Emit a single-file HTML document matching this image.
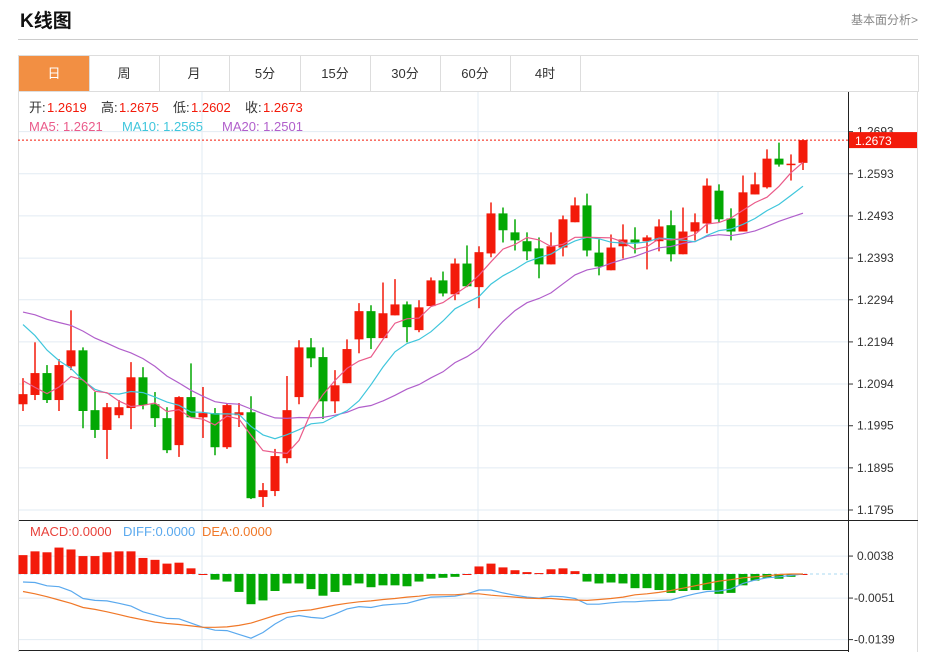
<!DOCTYPE html>
<html><head><meta charset="utf-8"><style>
body{margin:0;background:#fff;font-family:"Liberation Sans","Noto Sans CJK SC",sans-serif;}
#wrap{position:relative;width:936px;height:653px;overflow:hidden;}
.title{position:absolute;left:20px;top:6px;font-size:19px;font-weight:bold;color:#111;}
.more{position:absolute;left:851px;top:11px;font-size:12px;color:#888;}
.hr{position:absolute;left:18px;top:39px;width:900px;height:1px;background:#ccc;}
.tabs{position:absolute;left:18px;top:55px;width:899px;height:35px;border:1px solid #ddd;}
.tab{position:absolute;top:0;height:35px;width:70px;border-right:1px solid #ddd;text-align:center;line-height:35px;font-size:13px;color:#333;}
.tab.on{background:#f28f43;color:#fff;}
svg{position:absolute;left:0;top:0;}
</style></head><body><div id="wrap">
<div class="title">K线图</div>
<div class="more">基本面分析&gt;</div>
<div class="hr"></div>
<div class="tabs">
<div class="tab on" style="left:0">日</div>
<div class="tab" style="left:70px">周</div>
<div class="tab" style="left:140px">月</div>
<div class="tab" style="left:211px">5分</div>
<div class="tab" style="left:281px">15分</div>
<div class="tab" style="left:351px">30分</div>
<div class="tab" style="left:421px">60分</div>
<div class="tab" style="left:491px">4时</div>
</div>
<svg id="chart" width="936" height="653"></svg>
</div>
<script>
const opens=[1.2046,1.2068,1.2120,1.2056,1.2136,1.2174,1.2032,1.1985,1.2020,1.2037,1.2110,1.2046,1.2013,1.1949,1.2063,1.2015,1.2025,1.1944,1.2020,1.2027,1.1826,1.1840,1.1918,1.2063,1.2181,1.2158,1.2053,1.2096,1.2200,1.2267,1.2203,1.2257,1.2283,1.2222,1.2279,1.2340,1.2307,1.2380,1.2324,1.2404,1.2499,1.2454,1.2433,1.2416,1.2378,1.2418,1.2478,1.2518,1.2406,1.2364,1.2421,1.2437,1.2433,1.2433,1.2471,1.2402,1.2456,1.2475,1.2553,1.2487,1.2456,1.2544,1.2561,1.2629,1.2615,1.2619];
const closes=[1.2070,1.2120,1.2056,1.2139,1.2174,1.2030,1.1985,1.2039,1.2039,1.2110,1.2044,1.2013,1.1937,1.2063,1.2015,1.2025,1.1944,1.2044,1.2027,1.1823,1.1842,1.1923,1.2032,1.2181,1.2155,1.2053,1.2091,1.2177,1.2267,1.2203,1.2262,1.2283,1.2229,1.2276,1.2340,1.2309,1.2380,1.2326,1.2407,1.2499,1.2459,1.2435,1.2409,1.2378,1.2421,1.2485,1.2518,1.2411,1.2373,1.2418,1.2437,1.2430,1.2442,1.2468,1.2402,1.2456,1.2478,1.2565,1.2485,1.2456,1.2549,1.2568,1.2629,1.2615,1.2617,1.2673];
const highs=[1.2108,1.2193,1.2139,1.2153,1.2269,1.2181,1.2075,1.2049,1.2056,1.2146,1.2134,1.2075,1.2039,1.2065,1.2143,1.2087,1.2037,1.2049,1.2049,1.2065,1.1859,1.1940,1.2113,1.2198,1.2203,1.2181,1.2127,1.2200,1.2286,1.2281,1.2335,1.2343,1.2290,1.2293,1.2347,1.2361,1.2392,1.2423,1.2421,1.2525,1.2513,1.2485,1.2454,1.2442,1.2454,1.2494,1.2537,1.2546,1.2437,1.2449,1.2473,1.2466,1.2447,1.2485,1.2506,1.2513,1.2499,1.2582,1.2568,1.2511,1.2589,1.2596,1.2651,1.2667,1.2639,1.2675];
const lows=[1.2030,1.2056,1.2049,1.2030,1.2127,1.1989,1.1966,1.1916,1.2013,1.1987,1.2034,1.1992,1.1930,1.1921,1.2015,1.1966,1.1925,1.1940,1.1992,1.1821,1.1802,1.1828,1.1906,1.2046,1.2134,1.2011,1.2025,1.2096,1.2167,1.2177,1.2203,1.2257,1.2193,1.2217,1.2279,1.2302,1.2293,1.2324,1.2274,1.2395,1.2430,1.2411,1.2388,1.2345,1.2378,1.2397,1.2478,1.2397,1.2352,1.2364,1.2392,1.2404,1.2366,1.2409,1.2385,1.2402,1.2435,1.2452,1.2478,1.2435,1.2456,1.2544,1.2558,1.2610,1.2577,1.2602];
const priorCloses=[1.2250,1.2270,1.2290,1.2310,1.2300,1.2320,1.2280,1.2300,1.2310,1.2315,1.2380,1.2400,1.2390,1.2360,1.2310,1.2200,1.2130,1.2060,1.2050];
const diffs=[-0.0017,-0.0018,-0.0025,-0.0027,-0.0036,-0.0052,-0.0056,-0.0057,-0.0062,-0.0068,-0.0080,-0.0087,-0.0094,-0.0095,-0.0104,-0.0113,-0.0119,-0.0120,-0.0128,-0.0136,-0.0124,-0.0106,-0.0092,-0.0088,-0.0092,-0.0094,-0.0085,-0.0074,-0.0069,-0.0071,-0.0066,-0.0064,-0.0062,-0.0055,-0.0049,-0.0048,-0.0047,-0.0042,-0.0034,-0.0034,-0.0040,-0.0045,-0.0049,-0.0051,-0.0047,-0.0048,-0.0052,-0.0064,-0.0064,-0.0061,-0.0059,-0.0059,-0.0057,-0.0056,-0.0055,-0.0048,-0.0042,-0.0037,-0.0036,-0.0032,-0.0020,-0.0013,-0.0008,-0.0006,-0.0003,0.0000];
const deas=[-0.0037,-0.0042,-0.0048,-0.0055,-0.0062,-0.0071,-0.0075,-0.0080,-0.0086,-0.0092,-0.0097,-0.0102,-0.0105,-0.0107,-0.0110,-0.0113,-0.0113,-0.0112,-0.0109,-0.0104,-0.0096,-0.0088,-0.0082,-0.0078,-0.0076,-0.0071,-0.0066,-0.0062,-0.0059,-0.0057,-0.0054,-0.0052,-0.0049,-0.0047,-0.0044,-0.0044,-0.0044,-0.0042,-0.0042,-0.0045,-0.0047,-0.0049,-0.0051,-0.0052,-0.0052,-0.0054,-0.0055,-0.0056,-0.0054,-0.0052,-0.0049,-0.0044,-0.0042,-0.0039,-0.0035,-0.0030,-0.0025,-0.0020,-0.0015,-0.0012,-0.0008,-0.0006,-0.0004,-0.0001,0.0000,0.0000];
const priceTicks=[1.2693,1.2593,1.2493,1.2393,1.2294,1.2194,1.2094,1.1995,1.1895,1.1795];
const macdTicks=[0.0038,-0.0051,-0.0139];

const NS='http://www.w3.org/2000/svg';
const svg=document.getElementById('chart');
function mk(tag,attrs,parent){const e=document.createElementNS(NS,tag);for(const k in attrs)e.setAttribute(k,attrs[k]);(parent||svg).appendChild(e);return e;}
const yP=v=>510-(v-1.1795)*4213;
const yM=v=>574-v*4719;
const xC=i=>23+i*12.0;
const RED='#f31a0a',GREEN='#03a803';

for(const t of priceTicks){const l=mk('line',{x1:18,x2:848,y1:yP(t),y2:yP(t),stroke:'#e2ebf3'});
}
for(const t of macdTicks){const l=mk('line',{x1:18,x2:848,y1:yM(t),y2:yM(t),stroke:'#e2ebf3'});
}
for(const gx of [202,478,718]){const l=mk('line',{x1:gx,x2:gx,y1:92,y2:650,stroke:'#e2ebf3'});
}
mk('line',{x1:848.5,x2:848.5,y1:92,y2:652,stroke:'#222'});
mk('line',{x1:917.5,x2:917.5,y1:92,y2:652,stroke:'#ddd'});
mk('line',{x1:18,x2:918,y1:520.5,y2:520.5,stroke:'#222'});
mk('line',{x1:18,x2:848,y1:650.5,y2:650.5,stroke:'#222'});
mk('line',{x1:18.5,x2:18.5,y1:92,y2:652,stroke:'#ddd'});

for(const t of priceTicks){
 const y=yP(t);mk('line',{x1:849,x2:853,y1:y,y2:y,stroke:'#333'});
 const tx=mk('text',{x:857,y:y+4,'font-size':12,fill:'#333'});tx.textContent=t.toFixed(4);
 }
for(const t of macdTicks){
 const y=yM(t);mk('line',{x1:849,x2:853,y1:y,y2:y,stroke:'#333'});
 const tx=mk('text',{x:t<0?854:857,y:y+4,'font-size':12,fill:'#333'});tx.textContent=t.toFixed(4);
 }

const all=priorCloses.concat(closes);
function ma(n){return closes.map((c,i)=>{const j=i+priorCloses.length;let s=0;for(let k=j-n+1;k<=j;k++)s+=all[k];return s/n;});}
function line(vals,fy,color,name){const p=mk('polyline',{points:vals.map((v,i)=>xC(i)+','+fy(v).toFixed(1)).join(' '),fill:'none',stroke:color,'stroke-width':1.2});
 }

closes.forEach((c,i)=>{
 const o=opens[i],up=c>=o,col=up?RED:GREEN,x=xC(i);
 const g=mk('g',{});
 mk('line',{x1:x,x2:x,y1:yP(highs[i]),y2:yP(lows[i]),stroke:col,'stroke-width':1.5},g);
 const top=yP(Math.max(o,c)),h=Math.max(1.5,yP(Math.min(o,c))-top);
 mk('rect',{x:x-4.5,y:top,width:9,height:h,fill:col},g);
});
line(ma(20),yP,'#b15fcb','ma20-line');
line(ma(10),yP,'#3fc6dc','ma10-line');
line(ma(5),yP,'#ea5b8a','ma5-line');

const lc=closes[closes.length-1];
mk('line',{x1:18,x2:848,y1:yP(lc),y2:yP(lc),stroke:RED,'stroke-dasharray':'2,2'});
const lb=mk('rect',{x:849,y:yP(lc)-8,width:68,height:16,fill:RED});

const lt=mk('text',{x:855,y:yP(lc)+5,'font-size':12,fill:'#fff'});lt.textContent='1.2673';


mk('line',{x1:18,x2:848,y1:yM(0),y2:yM(0),stroke:'#a8d8f0','stroke-dasharray':'3,3'});
diffs.forEach((d,i)=>{const m=2*(d-deas[i]);const y0=yM(0),y1=yM(m);
 const r=mk('rect',{x:xC(i)-4.5,y:Math.min(y0,y1),width:9,height:Math.max(1,Math.abs(y1-y0)),fill:m>=0?RED:GREEN});
 });
line(diffs,yM,'#5aa9ee','diff-line');
line(deas,yM,'#f07828','dea-line');

function txt(y,parts,name){const t=mk('text',{y:y,'font-size':13});
 for(const [x,s,c] of parts){const sp=mk('tspan',{x:x,fill:c},t);sp.textContent=s;}
 }
txt(112,[[29,'开:','#333'],[47,'1.2619',RED],[101,'高:','#333'],[119,'1.2675',RED],[173,'低:','#333'],[191,'1.2602',RED],[245,'收:','#333'],[263,'1.2673',RED]],'ohlc-info');
txt(131,[[29,'MA5: 1.2621','#ea5b8a'],[122,'MA10: 1.2565','#3fc6dc'],[222,'MA20: 1.2501','#b15fcb']],'ma-legend');
txt(536,[[30,'MACD:0.0000','#e8413a'],[123,'DIFF:0.0000','#5aa9ee'],[202,'DEA:0.0000','#f07828']],'macd-legend');
</script></body></html>
